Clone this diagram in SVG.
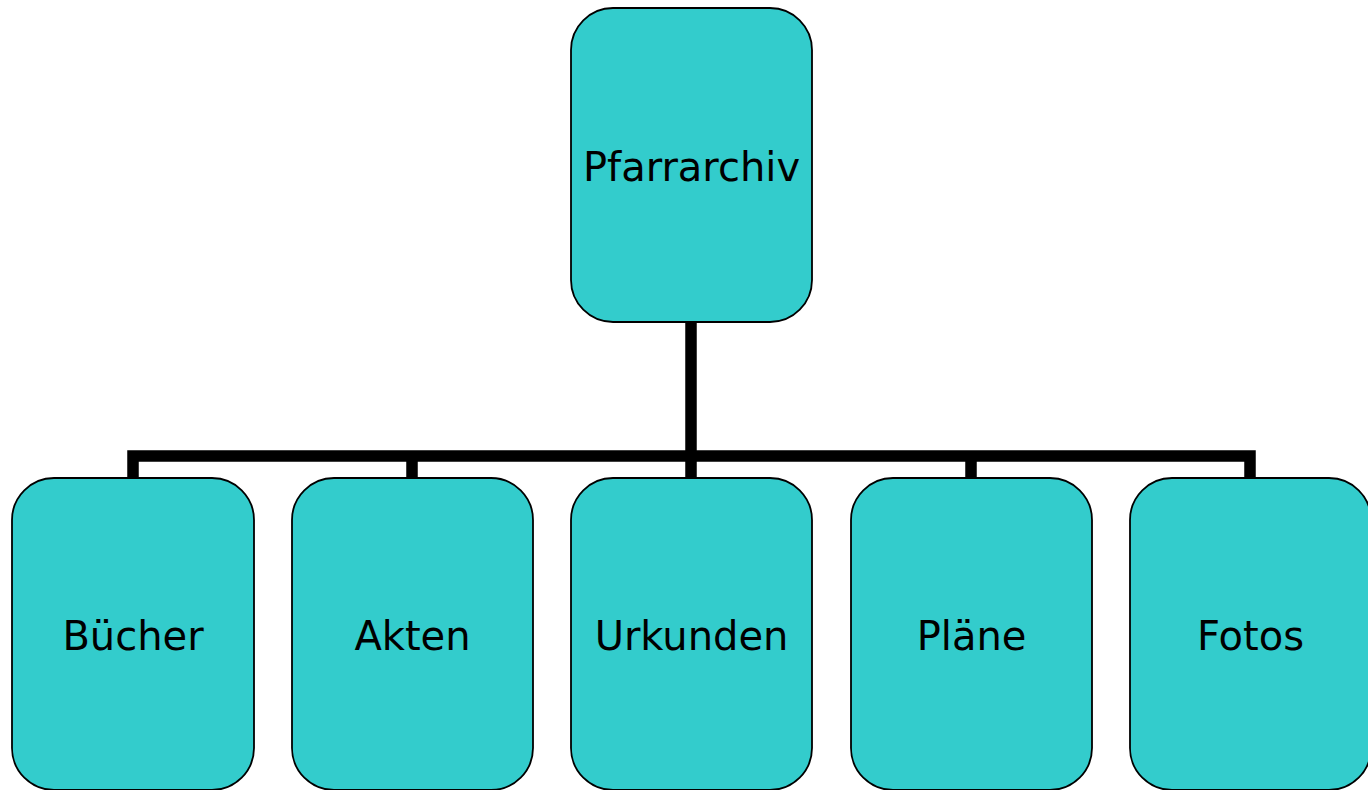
<svg xmlns="http://www.w3.org/2000/svg" width="1368" height="790" viewBox="0 0 1368 790">
<style>
.node rect{fill:#33CCCC;stroke:#000;stroke-width:1.8}
.node text{font-family:"DejaVu Sans",Verdana,sans-serif;font-size:40px;fill:#000;text-anchor:middle;dominant-baseline:central}
.conn{fill:none;stroke:#000;stroke-width:11.5;stroke-linejoin:miter;stroke-linecap:butt}
</style>
<rect width="1368" height="790" fill="#fff"/>
<g id="connectors">
<path class="conn" d="M691,322 V456"/>
<path class="conn" d="M133,478 V456 H1250 V478"/>
<path class="conn" d="M412,456 V478 M691,456 V478 M971,456 V478"/>
</g>
<g id="n-pfarrarchiv" class="node"><rect x="571" y="8" width="241" height="314" rx="42"/><text x="691.5" y="167">Pfarrarchiv</text></g>
<g id="n-buecher" class="node"><rect x="12" y="478" width="242" height="312" rx="42"/><text x="133" y="636">Bücher</text></g>
<g id="n-akten" class="node"><rect x="292" y="478" width="241" height="312" rx="42"/><text x="412.5" y="636">Akten</text></g>
<g id="n-urkunden" class="node"><rect x="571" y="478" width="241" height="312" rx="42"/><text x="691.5" y="636">Urkunden</text></g>
<g id="n-plaene" class="node"><rect x="851" y="478" width="241" height="312" rx="42"/><text x="971.5" y="636">Pläne</text></g>
<g id="n-fotos" class="node"><rect x="1130" y="478" width="241" height="312" rx="42"/><text x="1250.5" y="636">Fotos</text></g>
</svg>
